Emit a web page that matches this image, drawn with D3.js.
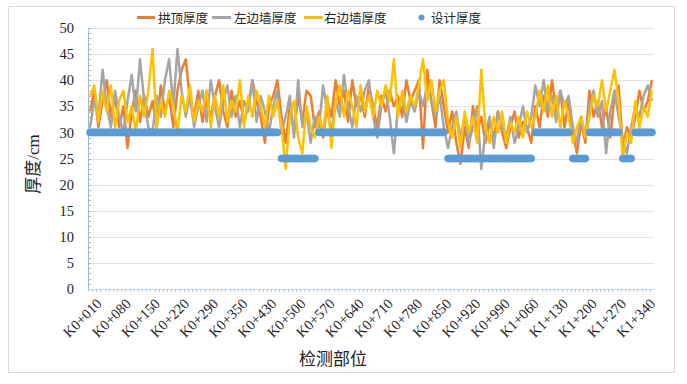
<!DOCTYPE html>
<html>
<head>
<meta charset="utf-8">
<script src="https://cdn.jsdelivr.net/npm/d3@7"></script>
<style>
  html, body { margin: 0; padding: 0; background: #ffffff; }
  svg { display: block; }
</style>
</head>
<body>
<svg id="chart" width="687" height="384"></svg>
<script>
// ---------------- DATA ----------------
const categories = [
  "K0+010","K0+020","K0+030","K0+040","K0+050","K0+060","K0+070","K0+080","K0+090","K0+100",
  "K0+110","K0+120","K0+130","K0+140","K0+150","K0+160","K0+170","K0+180","K0+190","K0+200",
  "K0+210","K0+220","K0+230","K0+240","K0+250","K0+260","K0+270","K0+280","K0+290","K0+300",
  "K0+310","K0+320","K0+330","K0+335","K0+340","K0+350","K0+360","K0+370","K0+380","K0+390",
  "K0+400","K0+410","K0+430","K0+440","K0+450","K0+460","K0+470","K0+480","K0+490","K0+500",
  "K0+510","K0+520","K0+530","K0+540","K0+550","K0+560","K0+570","K0+580","K0+590","K0+600",
  "K0+610","K0+620","K0+630","K0+640","K0+650","K0+660","K0+670","K0+680","K0+690","K0+700",
  "K0+710","K0+720","K0+730","K0+740","K0+750","K0+760","K0+770","K0+780","K0+790","K0+800",
  "K0+810","K0+820","K0+830","K0+840","K0+850","K0+860","K0+870","K0+880","K0+890","K0+900",
  "K0+910","K0+920","K0+930","K0+940","K0+950","K0+960","K0+970","K0+980","K0+990","K1+000",
  "K1+010","K1+020","K1+030","K1+040","K1+050","K1+060","K1+070","K1+080","K1+090","K1+100",
  "K1+110","K1+120","K1+130","K1+140","K1+150","K1+160","K1+170","K1+180","K1+190","K1+200",
  "K1+210","K1+220","K1+230","K1+240","K1+250","K1+260","K1+270","K1+280","K1+290","K1+300",
  "K1+310","K1+320","K1+330","K1+340","K1+350","K1+360"
];

const tickLabels = ["K0+010","K0+080","K0+150","K0+220","K0+290","K0+350","K0+430","K0+500",
  "K0+570","K0+640","K0+710","K0+780","K0+850","K0+920","K0+990","K1+060","K1+130","K1+200",
  "K1+270","K1+340"];

const yTicks = [0,5,10,15,20,25,30,35,40,45,50];

// 拱顶厚度
const archValues = [
  34,38,31,36,40,33,37,31,35,27, 34,38,32,37,33,36,31,39,34,37,
  31,38,42,44,36,33,38,32,36,33, 37,40,34,31,38,33,36,32,35,40,
  36,33,28,35,37,40,
  33,28,35,30,37,32,38,37,31,
  34,29,36,33,40,35,38,32,40,35, 37,33,39,35,31,37,34,38,35,37,
  33,40,36,38,40,27,42,36,31,40, 35,
  30,34,28,24,31,27,35,30,33,28, 32,29,34,30,27,31,34,29,32,31, 28,
  35,31,37,33,40,34,38,31,36,
  30,26,32,28,
  38,33,36,31,35,29,37,39,
  27,31,29,
  33,38,34,36,40
];

// 左边墙厚度
const leftWallValues = [
  31,36,33,42,35,31,38,33,30,36, 41,34,44,36,31,30,37,33,40,44,
  35,46,38,33,37,31,35,38,32,40, 35,31,36,39,33,37,31,36,34,40,
  32,37,34,30,35,38,
  30,33,37,29,40,31,34,28,33,
  31,39,34,30,36,33,41,35,31,37, 34,38,40,33,29,35,38,33,26,35,
  37,32,36,34,38,35,39,36,33,37, 31,
  27,31,34,29,33,28,31,35,23,30, 33,27,34,31,29,33,28,31,35,30, 33,
  39,35,40,34,37,32,38,35,37,
  31,28,33,29,
  35,38,33,36,26,34,38,33,
  29,26,31,
  35,33,37,39,36
];

// 右边墙厚度
const rightWallValues = [
  37,39,32,38,34,39,31,36,38,32, 35,30,37,33,38,46,31,36,33,38,
  35,30,37,34,39,32,36,34,38,31, 37,33,39,32,36,34,40,31,37,33,
  38,35,31,37,33,36,
  31,23,33,36,29,26,35,31,29,
  33,30,37,27,36,39,33,38,35,31, 39,34,37,33,38,35,39,36,44,33,
  38,34,37,35,39,44,36,40,34,38, 40,
  32,29,33,27,34,30,33,28,42,31, 28,33,30,34,28,32,30,33,29,34, 31,
  33,38,34,39,33,37,31,36,33,
  28,31,33,29,
  33,37,35,40,34,38,42,36,
  25,30,28,
  36,31,35,33,38
];

// 设计厚度
const designValues = [
  30,30,30,30,30,30,30,30,30,30, 30,30,30,30,30,30,30,30,30,30,
  30,30,30,30,30,30,30,30,30,30, 30,30,30,30,30,30,30,30,30,30,
  30,30,30,30,30,30,
  25,25,25,25,25,25,25,25,25,
  30,30,30,30,30,30,30,30,30,30, 30,30,30,30,30,30,30,30,30,30,
  30,30,30,30,30,30,30,30,30,30, 30,
  25,25,25,25,25,25,25,25,25,25, 25,25,25,25,25,25,25,25,25,25, 25,
  30,30,30,30,30,30,30,30,30,
  25,25,25,25,
  30,30,30,30,30,30,30,30,
  25,25,25,
  30,30,30,30,30
];

const seriesNames = ["拱顶厚度","左边墙厚度","右边墙厚度","设计厚度"];
const seriesColors = ["#ED7D31","#A5A5A5","#FFC000","#5B9BD5"];

// ---------------- CHART ----------------
const svg = d3.select("#chart");
const FONT = '"Liberation Serif", "Noto Sans CJK SC", serif';

const plot = { left: 88, right: 654, top: 28, bottom: 289 };

// outer frame
svg.append("rect")
  .attr("x", 8.5).attr("y", 6.5)
  .attr("width", 666).attr("height", 366)
  .attr("fill", "#ffffff").attr("stroke", "#d9d9d9").attr("stroke-width", 1);

const x = d3.scaleBand().domain(categories).range([plot.left, plot.right]).padding(0);
const y = d3.scaleLinear().domain([0, 50]).range([plot.bottom, plot.top]);
const cx = d => x(d) + x.bandwidth() / 2;

// gridlines
svg.append("g")
  .selectAll("line").data(yTicks.filter(t => t > 0)).join("line")
  .attr("x1", plot.left).attr("x2", plot.right)
  .attr("y1", d => Math.round(y(d)) + 0.5).attr("y2", d => Math.round(y(d)) + 0.5)
  .attr("stroke", "#e3e3e3").attr("stroke-width", 1);

// y axis
const yAxis = d3.axisLeft(y).tickValues(yTicks).tickSize(0).tickPadding(14);
const gy = svg.append("g").attr("transform", `translate(${plot.left},0)`).call(yAxis);
gy.attr("font-family", null).attr("font-size", null);
gy.select(".domain").attr("stroke", "#9dbbd9");
gy.selectAll("text").style("font-family", FONT)
  .style("font-size", "14.5px").attr("fill", "#222");
// minor ticks y
const yMinor = d3.range(0, 51, 1);
svg.append("g").selectAll("line").data(yMinor).join("line")
  .attr("x1", plot.left).attr("x2", plot.left + 3)
  .attr("y1", d => Math.round(y(d)) + 0.5).attr("y2", d => Math.round(y(d)) + 0.5)
  .attr("stroke", "#9dbbd9").attr("stroke-width", 1);

// x axis
const xAxis = d3.axisBottom(x).tickValues(tickLabels).tickSize(0).tickFormat(d => d);
const gx = svg.append("g").attr("transform", `translate(0,${plot.bottom})`).call(xAxis);
gx.attr("font-family", null).attr("font-size", null);
gx.select(".domain").attr("stroke", "#c9d6e3");
gx.selectAll("text")
  .style("font-family", FONT)
  .style("font-size", "14.5px").attr("fill", "#222")
  .attr("text-anchor", "end")
  .attr("transform", "translate(9,12) rotate(-45)")
  .attr("dy", "0.35em").attr("y", 0).attr("x", 0);
// minor ticks x (each category boundary)
svg.append("g").selectAll("line").data(categories).join("line")
  .attr("x1", d => Math.round(x(d)) + 0.5).attr("x2", d => Math.round(x(d)) + 0.5)
  .attr("y1", plot.bottom).attr("y2", plot.bottom + 3)
  .attr("stroke", "#b7c9dc").attr("stroke-width", 1);

// lines
const lineGen = vals => d3.line()
  .x((d, i) => cx(categories[i]))
  .y(d => y(d))(vals);

[archValues, leftWallValues, rightWallValues].forEach((vals, k) => {
  svg.append("path")
    .attr("d", lineGen(vals))
    .attr("fill", "none")
    .attr("stroke", seriesColors[k])
    .attr("stroke-width", 2.5)
    .attr("stroke-linejoin", "round");
});

// design markers (overlapping dots form a continuous band)
const R = 3.8;
const runs = svg.append("g");
designValues.forEach((v, i) => {
  if (i < designValues.length - 1 && designValues[i + 1] === v) {
    runs.append("line")
      .attr("x1", cx(categories[i])).attr("x2", cx(categories[i + 1]))
      .attr("y1", y(v)).attr("y2", y(v))
      .attr("stroke", seriesColors[3]).attr("stroke-width", 2 * R);
  }
});
svg.append("g").selectAll("circle").data(designValues).join("circle")
  .attr("cx", (d, i) => cx(categories[i]))
  .attr("cy", d => y(d))
  .attr("r", R)
  .attr("fill", seriesColors[3]);

// legend
const legend = svg.append("g");
const legendItems = [
  { x1: 137, x2: 155, tx: 158 },
  { x1: 212, x2: 231, tx: 234 },
  { x1: 304, x2: 323, tx: 324 },
  { dot: 421.5, tx: 431 }
];
legendItems.forEach((it, k) => {
  if (it.dot === undefined) {
    legend.append("line").attr("x1", it.x1).attr("x2", it.x2)
      .attr("y1", 17.5).attr("y2", 17.5)
      .attr("stroke", seriesColors[k]).attr("stroke-width", 3);
  } else {
    legend.append("circle").attr("cx", it.dot).attr("cy", 17.5).attr("r", 3)
      .attr("fill", seriesColors[k]);
  }
  legend.append("text").attr("x", it.tx).attr("y", 22.5)
    .style("font-family", FONT).style("font-size", "12.5px").attr("fill", "#222")
    .text(seriesNames[k]);
});

// axis titles
svg.append("text")
  .attr("x", 333).attr("y", 365)
  .attr("text-anchor", "middle")
  .style("font-family", FONT).style("font-size", "17px").attr("fill", "#222")
  .text("检测部位");

svg.append("text")
  .attr("transform", "translate(39,164) rotate(-90)")
  .attr("text-anchor", "middle")
  .style("font-family", FONT).style("font-size", "17px").attr("fill", "#222")
  .text("厚度/cm");
</script>
</body>
</html>
